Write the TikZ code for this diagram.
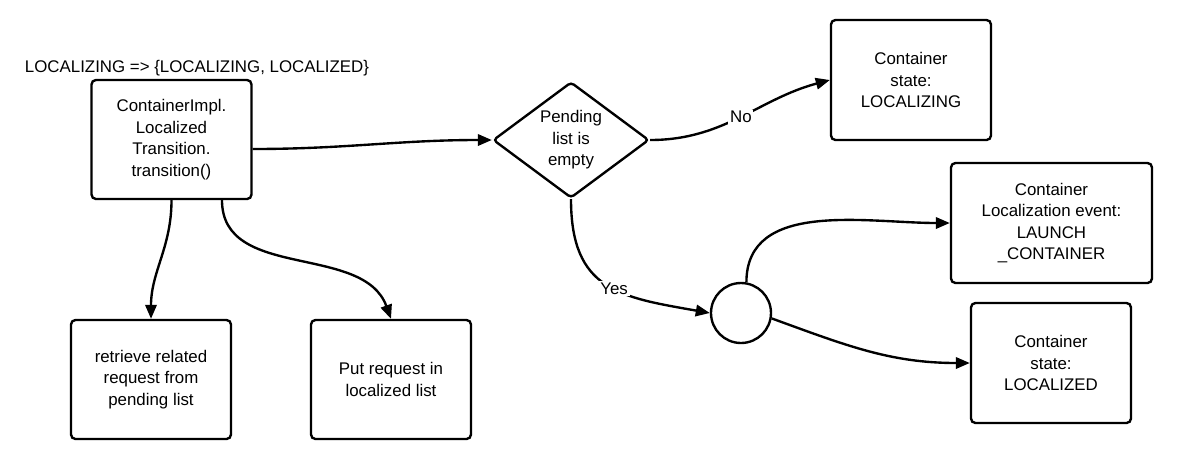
\documentclass[tikz,border=0pt]{standalone}
\usepackage{fontspec}
\setmainfont{Liberation Sans}
\usetikzlibrary{shapes,arrows,arrows.meta}
\tikzstyle{line} = [draw, -{Triangle[length=8pt,width=6.5pt]}, line width=1.35pt]
\tikzstyle{block} = [draw, rectangle, rounded corners=2.5pt, line width=1.35pt, align=center, inner sep=0pt, minimum width=3.2cm, minimum height=2.4cm]
\tikzstyle{decision} = [draw, diamond, aspect=1.34, rounded corners=2pt, line width=1.35pt, align=center, inner sep=0pt, minimum width=3.12cm, minimum height=2.32cm]
\tikzstyle{junction} = [draw, circle, line width=1.35pt, inner sep=0pt, minimum size=1.2cm]
\tikzstyle{answer} = [fill=white, inner sep=1pt]

\begin{document}
\begin{tikzpicture}[x=0.02cm, y=0.02cm, font=\fontsize{9.6}{12.3}\selectfont]
    % Page size of the reference
    \useasboundingbox (0,0) rectangle (1181,-461);
    % Blocks
    \node (title) at (197,-68) {LOCALIZING => \{LOCALIZING, LOCALIZED\}};
    \node [block, minimum height=2.38cm] (impl) at (171.5,-139.5) {ContainerImpl.\\Localized\\Transition.\\transition()};
    \node [decision] (dec) at (571,-140) {Pending\\list is\\empty};
    \node [junction] (circ) at (741,-313) {};
    \node [block] (state1) at (911,-80) {Container\\state:\\LOCALIZING};
    \node [block, minimum width=4.02cm] (launch) at (1051.5,-223) {Container\\Localization event:\\LAUNCH\\\_CONTAINER};
    \node [block] (localized) at (1051,-363) {Container\\state:\\LOCALIZED};
    \node [block, minimum height=2.38cm] (retrieve) at (151,-379.5) {retrieve related\\request from\\pending list};
    \node [block, minimum height=2.38cm] (put) at (391,-379.5) {Put request in\\localized list};
    % Connectors
    \path [line] ([yshift=-0.19cm]impl.east) to[out=0,in=180] (dec.west);
    \path [line] (impl.south) to[out=-90,in=90] (retrieve.north);
    \path [line] ([xshift=1.01cm]impl.south) to[out=-90,in=110] (put.north);
    \path [line] (dec.east) to[out=0,in=195] node [answer] (no) {No} (state1.west);
    \path [line] (dec.south) to[out=-90,in=170,looseness=1.3] node [answer, pos=0.55] (yes) {Yes} (circ.west);
    \path [line] (circ.80) to[out=90,in=180] (launch.west);
    \path [line] (circ.-10) to[out=-20,in=180] (localized.west);
\end{tikzpicture}
\end{document}
